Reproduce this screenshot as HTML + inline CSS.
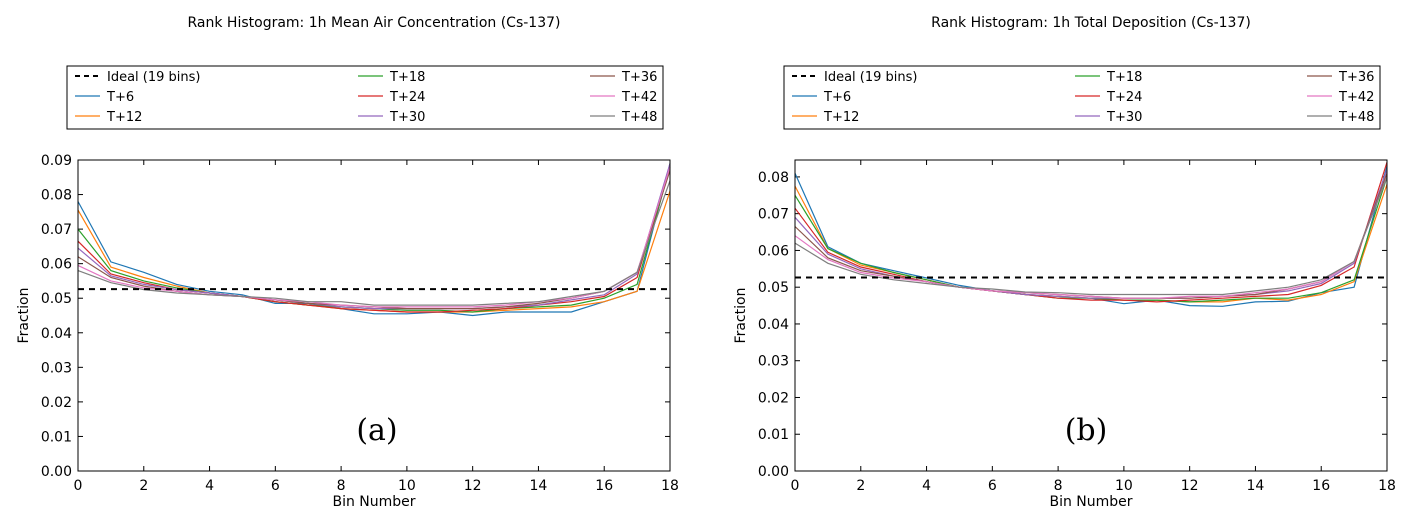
<!DOCTYPE html>
<html><head><meta charset="utf-8"><style>
body{margin:0;background:#fff;}
svg text{font-family:"DejaVu Sans","Liberation Sans",sans-serif;fill:#000;}
</style></head><body>
<svg id="chart" width="1415" height="524" xmlns="http://www.w3.org/2000/svg"></svg>
<script>
const bins = [0,1,2,3,4,5,6,7,8,9,10,11,12,13,14,15,16,17,18];
const seriesNames = ["T+6","T+12","T+18","T+24","T+30","T+36","T+42","T+48"];
const seriesColors = ["#1f77b4","#ff7f0e","#2ca02c","#d62728","#9467bd","#8c564b","#e377c2","#7f7f7f"];
const idealValue = 1/19;
const airT6  = [0.078,0.0605,0.0575,0.054,0.052,0.051,0.0485,0.0485,0.047,0.0455,0.0455,0.046,0.045,0.046,0.046,0.046,0.049,0.052,0.089];
const airT12 = [0.0755,0.059,0.056,0.0535,0.0515,0.0505,0.049,0.048,0.047,0.0465,0.046,0.046,0.046,0.0465,0.047,0.0475,0.049,0.052,0.081];
const airT18 = [0.070,0.058,0.055,0.053,0.0515,0.0505,0.049,0.048,0.0475,0.047,0.0465,0.0465,0.046,0.047,0.0475,0.048,0.050,0.054,0.088];
const airT24 = [0.0665,0.057,0.0545,0.0525,0.0515,0.0505,0.049,0.048,0.047,0.0465,0.046,0.046,0.0465,0.047,0.048,0.049,0.0505,0.056,0.088];
const airT30 = [0.0645,0.0565,0.054,0.0525,0.0515,0.0505,0.0495,0.0485,0.0475,0.047,0.047,0.047,0.047,0.0475,0.048,0.0495,0.051,0.057,0.089];
const airT36 = [0.062,0.056,0.0535,0.052,0.051,0.0505,0.0495,0.0485,0.048,0.0475,0.047,0.047,0.047,0.0475,0.0485,0.050,0.052,0.0575,0.087];
const airT42 = [0.0595,0.055,0.053,0.052,0.051,0.0505,0.0495,0.049,0.048,0.0475,0.0475,0.0475,0.0475,0.048,0.049,0.050,0.052,0.0575,0.088];
const airT48 = [0.058,0.0545,0.0525,0.0515,0.051,0.0505,0.050,0.049,0.049,0.048,0.048,0.048,0.048,0.0485,0.049,0.0505,0.052,0.0575,0.084];
const depT6  = [0.081,0.061,0.0565,0.0545,0.0525,0.0505,0.049,0.048,0.0475,0.047,0.0455,0.0465,0.045,0.0448,0.046,0.0462,0.0485,0.050,0.083];
const depT12 = [0.0775,0.0605,0.056,0.054,0.052,0.050,0.049,0.048,0.0475,0.047,0.0465,0.0465,0.046,0.046,0.047,0.0465,0.048,0.0515,0.078];
const depT18 = [0.075,0.0605,0.0565,0.054,0.052,0.050,0.049,0.048,0.047,0.047,0.0465,0.0465,0.046,0.0465,0.047,0.047,0.0485,0.052,0.080];
const depT24 = [0.0715,0.0595,0.0555,0.0535,0.0515,0.050,0.049,0.048,0.047,0.0465,0.0465,0.046,0.0465,0.047,0.0475,0.048,0.0505,0.0555,0.084];
const depT30 = [0.069,0.059,0.055,0.053,0.0515,0.050,0.049,0.048,0.0475,0.047,0.047,0.047,0.047,0.0475,0.048,0.049,0.051,0.0565,0.082];
const depT36 = [0.0665,0.058,0.0545,0.053,0.0515,0.050,0.049,0.0485,0.048,0.0475,0.047,0.047,0.047,0.0475,0.048,0.0495,0.0515,0.057,0.081];
const depT42 = [0.064,0.0575,0.054,0.0525,0.0515,0.050,0.049,0.0485,0.048,0.0475,0.047,0.047,0.0475,0.0475,0.0485,0.0495,0.0515,0.057,0.080];
const depT48 = [0.062,0.0565,0.0535,0.052,0.051,0.050,0.0495,0.0487,0.0485,0.048,0.048,0.048,0.048,0.048,0.049,0.050,0.052,0.057,0.080];
const airSeries = [airT6,airT12,airT18,airT24,airT30,airT36,airT42,airT48];
const depSeries = [depT6,depT12,depT18,depT24,depT30,depT36,depT42,depT48];
const airTicks = ["0.00","0.01","0.02","0.03","0.04","0.05","0.06","0.07","0.08","0.09"];
const depTicks = ["0.00","0.01","0.02","0.03","0.04","0.05","0.06","0.07","0.08"];
const xTicks = [0,2,4,6,8,10,12,14,16,18];

const svg = document.getElementById('chart');
const NS = "http://www.w3.org/2000/svg";
function mk(tag, attrs, parent, text){
  const e = document.createElementNS(NS, tag);
  for (const k in attrs) e.setAttribute(k, attrs[k]);
  if (text !== undefined) e.textContent = text;
  (parent||svg).appendChild(e);
  return e;
}

function panel(cfg){
  const g = mk('g', {});
  
  
  const L = cfg.left, R = cfg.left + 592, T = 160, B = 471;
  const xs = v => L + (v - 0) / 18 * (R - L);
  const ys = v => B - v / cfg.ymax * (B - T);

  const title = mk('text', {x: (L+R)/2, y: 27, 'text-anchor':'middle', 'font-size': 14}, g, cfg.title);
  
  

  // legend
  const lg = mk('g', {}, g);
  
  
  const lx = L - 11;
  mk('rect', {x: lx, y: 66, width: 596, height: 63, fill: '#fff', stroke: '#000', 'stroke-width': 1}, lg);
  const entries = [{n:'Ideal (19 bins)', c:'#000', d:true}].concat(seriesNames.map((n,i)=>({n, c: seriesColors[i]})));
  const colX = [lx + 8, lx + 291, lx + 523];
  entries.forEach((en, i) => {
    const col = Math.floor(i/3), row = i%3;
    const ex = colX[col], ey = 76 + row*20;
    const eg = mk('g', {}, lg);
    
    
    mk('line', {x1: ex, x2: ex+25, y1: ey, y2: ey, stroke: en.c, 'stroke-width': en.d?2:1.2, 'stroke-dasharray': en.d?'5,4':''}, eg);
    mk('text', {x: ex+32, y: ey+5, 'font-size': 13}, eg, en.n);
  });

  // y ticks
  cfg.ticks.forEach((t, i) => {
    const v = parseFloat(t), y = ys(v);
    mk('line', {x1: L, x2: L+5, y1: y, y2: y, stroke:'#000'}, g);
    mk('line', {x1: R, x2: R-5, y1: y, y2: y, stroke:'#000'}, g);
    const tx = mk('text', {x: L-6, y: y+5, 'text-anchor':'end', 'font-size': 14}, g, t);
    
    
  });
  xTicks.forEach(t => {
    const x = xs(t);
    mk('line', {x1: x, x2: x, y1: B, y2: B-5, stroke:'#000'}, g);
    mk('line', {x1: x, x2: x, y1: T, y2: T+5, stroke:'#000'}, g);
    const tx = mk('text', {x: x, y: B+19, 'text-anchor':'middle', 'font-size': 14}, g, String(t));
    
    
  });
  const xl = mk('text', {x: (L+R)/2, y: 506, 'text-anchor':'middle', 'font-size': 14}, g, 'Bin Number');
  
  
  const yl = mk('text', {x: 0, y: 0, 'text-anchor':'middle', 'font-size': 14, transform: `translate(${L-50},${(T+B)/2}) rotate(-90)`}, g, 'Fraction');
  
  

  // series
  cfg.series.forEach((s, i) => {
    const pts = s.map((v, k) => xs(bins[k]).toFixed(1) + ',' + ys(v).toFixed(1)).join(' ');
    const pl = mk('polyline', {points: pts, fill:'none', stroke: seriesColors[i], 'stroke-width': 1.2}, g);
    
    
  });
  const il = mk('line', {x1: L, x2: R, y1: ys(idealValue), y2: ys(idealValue), stroke:'#000', 'stroke-width': 2, 'stroke-dasharray':'6,5'}, g);
  
  

  mk('rect', {x: L, y: T, width: R-L, height: B-T, fill:'none', stroke:'#000', 'stroke-width': 1}, g);
  const lab = mk('text', {x: cfg.labelX, y: 440, 'text-anchor':'middle', 'font-size': 30, style:'font-family:"DejaVu Serif","Liberation Serif",serif'}, g, cfg.label);
  
  
}

panel({name:'air-concentration-chart', left:78, ymax:0.09, ticks: airTicks, series: airSeries,
  title:'Rank Histogram: 1h Mean Air Concentration (Cs-137)', label:'(a)', labelX:377});
panel({name:'total-deposition-chart', left:795, ymax:0.0846, ticks: depTicks, series: depSeries,
  title:'Rank Histogram: 1h Total Deposition (Cs-137)', label:'(b)', labelX:1086});
</script>
</body></html>
